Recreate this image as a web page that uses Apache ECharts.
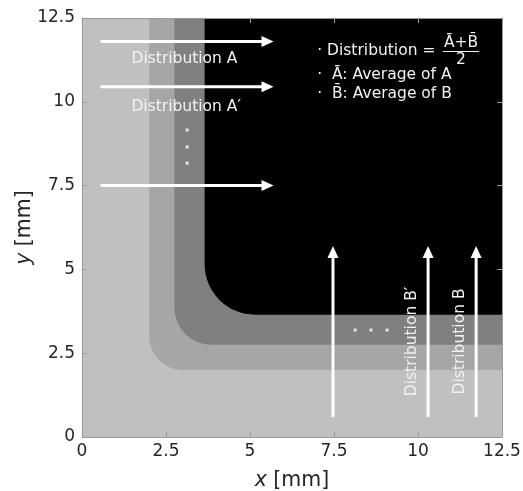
<!DOCTYPE html>
<html>
<head>
<meta charset="utf-8">
<style>
html, body { margin: 0; padding: 0; background: #fff; }
#chart { width: 523px; height: 491px; }
</style>
<script src="https://cdn.jsdelivr.net/npm/echarts@6/dist/echarts.min.js"></script>
</head>
<body>
<div id="chart"></div>
<script>
// ---- data (mm) --------------------------------------------------------------

// nested zones: lower-left corner, corner radius, fill
const zoneStart  = [0, 2.0, 2.75, 3.65];
const zoneRadius = [0, 1.0, 1.1, 1.5];
const zoneColor  = ["#c0c0c0", "#a6a6a6", "#808080", "#000000"];

// horizontal arrows: y level, shared x from -> to
const hArrowY = [11.8, 10.45, 7.5];
const hArrowX = [0.55, 5.7];
// vertical arrows: x position, shared y from -> to
const vArrowX = [7.47, 10.3, 11.73];
const vArrowY = [0.6, 5.7];

// arrow captions
const hLabels = ["Distribution A", "Distribution A\u2032"];
const hLabelX = [3.05, 3.1];
const hLabelY = [11.27, 9.85];
const vLabels = ["Distribution B\u2032", "Distribution B"];
const vLabelX = [9.81, 11.25];
const vLabelY = [2.85, 2.85];

// ellipsis dots
const vDotsX = [3.13, 3.13, 3.13];
const vDotsY = [9.16, 8.65, 8.17];
const hDotsX = [8.13, 8.6, 9.08];
const hDotsY = [3.19, 3.19, 3.19];

// note block
const noteText = ["\u00b7 Distribution =", "\u00b7  A\u0304: Average of A", "\u00b7  B\u0304: Average of B"];
const noteX = [7.0, 7.0, 7.0];
const noteY = [11.52, 10.8, 10.23];
const fracNum = "A\u0304+B\u0304";
const fracDen = "2";
const fracX = [10.74, 11.82];
const fracY = [11.76, 11.5, 11.25]; // numerator, bar, denominator

const FONT = '"DejaVu Sans", Verdana, sans-serif';
const INK = "#262626";
const AXIS = "#9a9a9a";

// ---- render helpers ---------------------------------------------------------

function renderZone(params, api) {
  const s = api.value(0);
  const tl = api.coord([s, 12.5]);
  const br = api.coord([12.5, s]);
  const rp = api.size([api.value(1), 0])[0];
  return {
    type: "rect",
    shape: { x: tl[0], y: tl[1], width: br[0] - tl[0], height: br[1] - tl[1], r: [0, 0, 0, rp] },
    style: { fill: zoneColor[api.value(2)] },
  };
}

function renderArrow(params, api) {
  const p0 = api.coord([api.value(0), api.value(1)]);
  const p1 = api.coord([api.value(2), api.value(3)]);
  const dx = p1[0] - p0[0], dy = p1[1] - p0[1];
  const len = Math.hypot(dx, dy);
  const ux = dx / len, uy = dy / len;
  const hl = 12, hw = 5.5;
  const bx = p1[0] - ux * hl, by = p1[1] - uy * hl;
  return {
    type: "group",
    children: [
      { type: "line", shape: { x1: p0[0], y1: p0[1], x2: bx + ux, y2: by + uy }, style: { stroke: "#fff", lineWidth: 3 } },
      {
        type: "polygon",
        shape: { points: [[p1[0], p1[1]], [bx - uy * hw, by + ux * hw], [bx + uy * hw, by - ux * hw]] },
        style: { fill: "#fff" },
      },
    ],
  };
}

function textSeries(xs, ys, texts, opts) {
  return {
    type: "custom",
    z: 6,
    silent: true,
    data: xs.map((x, i) => [x, ys[i], i]),
    renderItem: (params, api) => {
      const p = api.coord([api.value(0), api.value(1)]);
      return {
        type: "text",
        x: p[0],
        y: p[1],
        rotation: opts.rotation || 0,
        style: {
          text: texts[api.value(2)],
          fill: "#f2f2f2",
          font: "15.5px " + FONT,
          align: opts.align || "center",
          verticalAlign: "middle",
        },
      };
    },
  };
}

// ---- chart ------------------------------------------------------------------

const chart = echarts.init(document.getElementById("chart"), null, { renderer: "canvas" });

const axisCommon = {
  type: "value",
  min: 0,
  max: 12.5,
  interval: 2.5,
  z: 10,
  axisLine: { show: true, onZero: false, lineStyle: { color: AXIS, width: 1 } },
  axisTick: { show: true, inside: true, length: 5, lineStyle: { color: AXIS } },
  splitLine: { show: false },
};

const nameRich = {
  i: { fontStyle: "italic", fontSize: 20.5, color: INK, fontFamily: FONT },
  n: { fontSize: 20.5, color: INK, fontFamily: FONT },
};

chart.setOption({
  animation: false,
  grid: { left: 82, right: 21, top: 18, bottom: 54, outerBoundsMode: "none", containLabel: false },
  xAxis: [
    {
      ...axisCommon,
      position: "bottom",
      axisLabel: { color: INK, fontSize: 17, fontFamily: FONT, margin: 6 },
      name: "{i|x}{n| [mm]}",
      nameLocation: "middle",
      nameGap: 33,
      nameMoveOverlap: false,
      nameTextStyle: { rich: nameRich },
    },
    { ...axisCommon, position: "top", axisLabel: { show: false } },
  ],
  yAxis: [
    {
      ...axisCommon,
      position: "left",
      axisLabel: { color: INK, fontSize: 17, fontFamily: FONT, margin: 7 },
      name: "{i|y}{n| [mm]}",
      nameLocation: "middle",
      nameGap: 47,
      nameMoveOverlap: false,
      nameTextStyle: { rich: nameRich },
    },
    { ...axisCommon, position: "right", axisLabel: { show: false } },
  ],
  series: [
    {
      type: "custom",
      z: 1,
      silent: true,
      data: zoneStart.map((s, i) => [s, zoneRadius[i], i]),
      renderItem: renderZone,
    },
    {
      type: "custom",
      z: 5,
      silent: true,
      data: [
        ...hArrowY.map((y) => [hArrowX[0], y, hArrowX[1], y]),
        ...vArrowX.map((x) => [x, vArrowY[0], x, vArrowY[1]]),
      ],
      renderItem: renderArrow,
    },
    textSeries(hLabelX, hLabelY, hLabels, {}),
    textSeries(vLabelX, vLabelY, vLabels, { rotation: Math.PI / 2 }),
    textSeries(noteX, noteY, noteText, { align: "left" }),
    {
      type: "custom",
      z: 6,
      silent: true,
      data: [[fracX[0], fracX[1]]],
      renderItem: (params, api) => {
        const a = api.coord([fracX[0], fracY[1]]);
        const b = api.coord([fracX[1], fracY[1]]);
        const mid = (a[0] + b[0]) / 2;
        const num = api.coord([0, fracY[0]]);
        const den = api.coord([0, fracY[2]]);
        const st = { fill: "#f2f2f2", font: "15.5px " + FONT, align: "center", verticalAlign: "middle" };
        return {
          type: "group",
          children: [
            { type: "line", shape: { x1: a[0], y1: a[1], x2: b[0], y2: b[1] }, style: { stroke: "#f2f2f2", lineWidth: 1.2 } },
            { type: "text", x: mid, y: num[1], style: { ...st, text: fracNum } },
            { type: "text", x: mid, y: den[1], style: { ...st, text: fracDen } },
          ],
        };
      },
    },
    {
      type: "scatter",
      z: 6,
      silent: true,
      symbol: "rect",
      symbolSize: 3,
      itemStyle: { color: "#ffffff" },
      data: [...vDotsX.map((x, i) => [x, vDotsY[i]]), ...hDotsX.map((x, i) => [x, hDotsY[i]])],
    },
  ],
});
</script>
</body>
</html>
